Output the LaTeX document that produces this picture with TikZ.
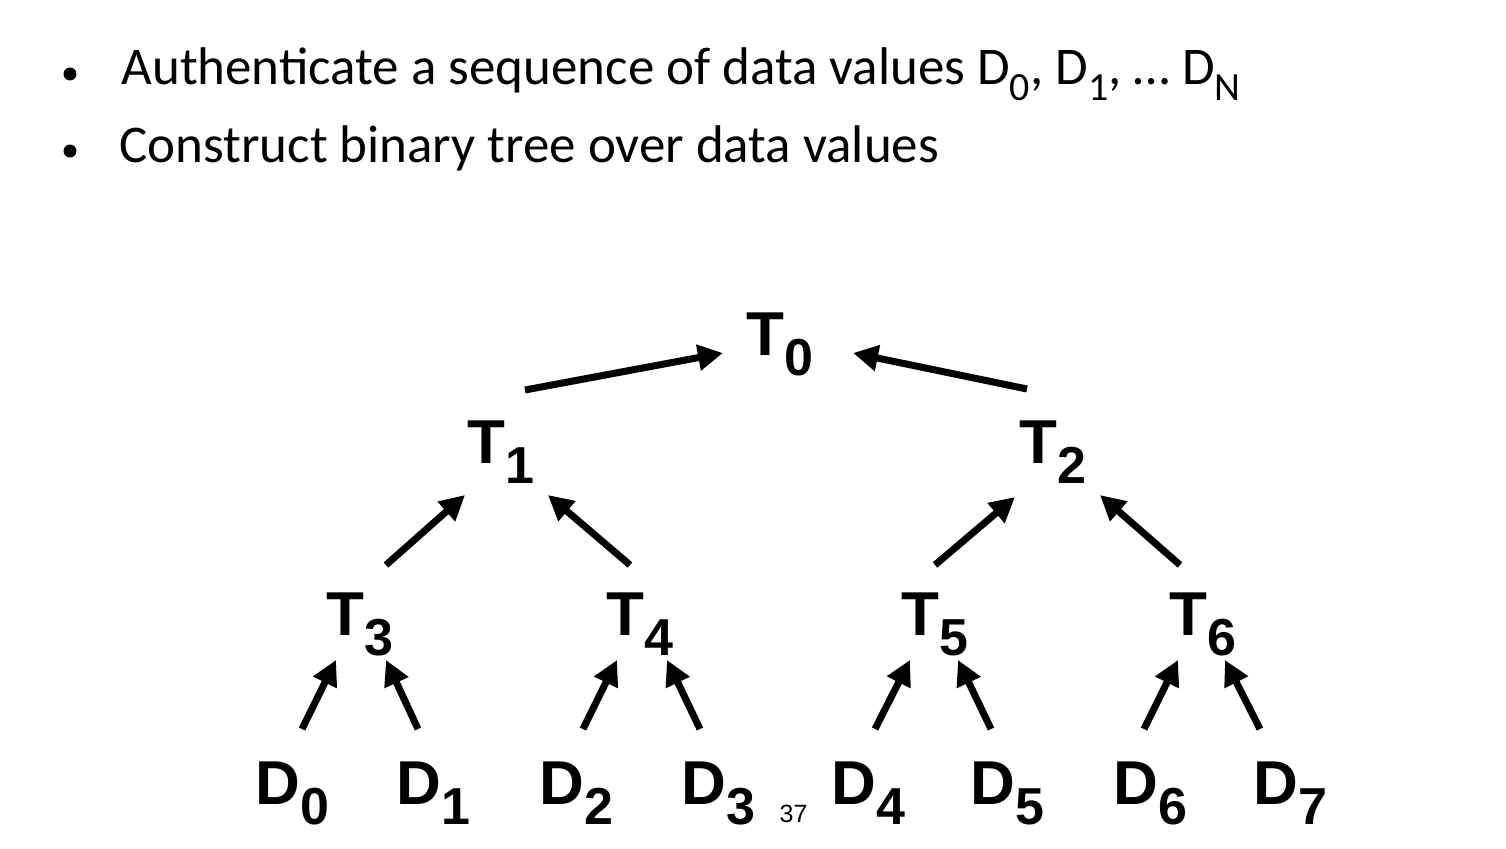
\documentclass[tikz,border=0pt]{standalone}
\usepackage{fontspec}
\setmainfont{Carlito}
\setsansfont{Liberation Sans}
\usetikzlibrary{arrows.meta,calc}

% tree label: bold letter with a large, deeply lowered index
\newcommand\treelab[2]{{\fontsize{62}{62}\selectfont #1}\raisebox{-20pt}{\fontsize{52}{52}\selectfont #2}}
% index used in the bullet text
\newcommand\bulsub[1]{\raisebox{-16pt}{\fontsize{40}{40}\selectfont #1}}

\tikzset{
  lab/.style={inner sep=0pt, outer sep=0pt, anchor=base west, font=\sffamily\bfseries},
  bultext/.style={inner sep=0pt, outer sep=0pt, anchor=base west, font=\fontsize{53}{53}\selectfont},
  arr/.style={line width=7pt, -{Triangle[length=25pt,width=25pt]}},
}
% edge from node #1 (offset #2) to node #3 (offset #4)
\newcommand\treeedge[4]{\draw[arr] ([shift={(#2)}]#1.base west) -- ([shift={(#4)}]#3.base west);}

\begin{document}
\begin{tikzpicture}[x=1pt,y=-1pt]
\useasboundingbox (0,0) rectangle (1506,848);

% bullet list
\fill (70,74) circle (6.5);
\fill (70,151) circle (6.5);
\node[bultext] (line1) at (121.5,85) {Authenticate a sequence of data values D\bulsub{0}, D\bulsub{1}, … D\bulsub{N}};
\node[bultext] (line2) at (119.5,162) {Construct binary tree over data values};

% tree nodes
\node[lab] (T0) at (746.6,355) {\treelab{T}{0}};
\node[lab] (T1) at (467.6,463) {\treelab{T}{1}};
\node[lab] (T2) at (1019.6,463) {\treelab{T}{2}};
\node[lab] (T3) at (326.6,635) {\treelab{T}{3}};
\node[lab] (T4) at (606.6,635) {\treelab{T}{4}};
\node[lab] (T5) at (901.6,635) {\treelab{T}{5}};
\node[lab] (T6) at (1169.6,635) {\treelab{T}{6}};

\node[lab] (D0) at (255.5,804) {\treelab{D}{0}};
\node[lab] (D1) at (396.5,804) {\treelab{D}{1}};
\node[lab] (D2) at (539.5,804) {\treelab{D}{2}};
\node[lab] (D3) at (681.5,804) {\treelab{D}{3}};
\node[lab] (D4) at (831.5,804) {\treelab{D}{4}};
\node[lab] (D5) at (970.5,804) {\treelab{D}{5}};
\node[lab] (D6) at (1113.5,804) {\treelab{D}{6}};
\node[lab] (D7) at (1253.5,804) {\treelab{D}{7}};

% page number
\node[inner sep=0pt, anchor=base west, font=\sffamily\fontsize{25}{25}\selectfont] (pg) at (779.5,822) {37};

% edges towards the root
\treeedge{T1}{57.4,-73}{T0}{-23.6,-2}
\treeedge{T2}{7.4,-74}{T0}{106.4,-2}
\treeedge{T3}{59.4,-70}{T1}{-2.6,32}
\treeedge{T4}{23.4,-70}{T1}{80.4,32}
\treeedge{T5}{33.4,-70}{T2}{-4.6,34}
\treeedge{T6}{10.4,-70}{T2}{80.4,32}
\treeedge{D0}{46.5,-75}{T3}{9.4,25}
\treeedge{D1}{21.5,-75}{T3}{59.4,25}
\treeedge{D2}{43.5,-75}{T4}{10.4,25}
\treeedge{D3}{18.5,-75}{T4}{60.4,25}
\treeedge{D4}{43.5,-75}{T5}{8.4,25}
\treeedge{D5}{20.5,-75}{T5}{56.4,25}
\treeedge{D6}{30.5,-75}{T6}{8.4,25}
\treeedge{D7}{6.5,-75}{T6}{55.4,25}
\end{tikzpicture}
\end{document}
